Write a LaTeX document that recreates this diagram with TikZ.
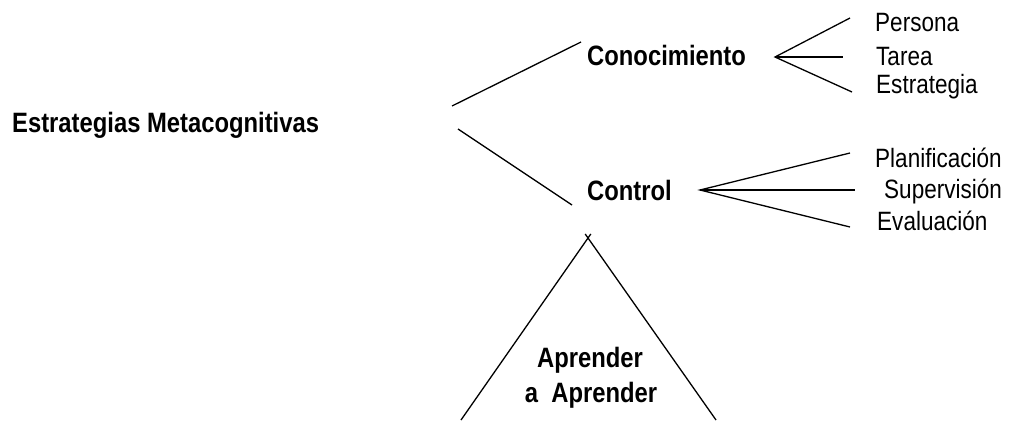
\documentclass[tikz,border=0pt]{standalone}
\usepackage{fontspec}
\setmainfont{Liberation Sans}[FakeStretch=0.85]
\begin{document}
\begin{tikzpicture}[x=1pt,y=-1pt,
  lbl/.style={inner sep=0pt,anchor=base west,font=\fontsize{26.5}{30}\selectfont},
  head/.style={inner sep=0pt,anchor=base west,font=\fontsize{28}{32}\selectfont\bfseries},
  ln/.style={line width=1.3pt,black}]
\useasboundingbox[fill=white] (0,0) rectangle (1011,420);

% main terms
\node[head] (em)  at (12,132)  {Estrategias Metacognitivas};
\node[head] (con) at (587,65)  {Conocimiento};
\node[head] (ctl) at (587,200) {Control};

% knowledge components
\node[lbl] (per) at (875,32) {Persona};
\node[lbl] (tar) at (876,65) {Tarea};
\node[lbl] (est) at (876,93) {Estrategia};

% control components
\node[lbl] (pla) at (875,167) {Planificación};
\node[lbl] (sup) at (884,198) {Supervisión};
\node[lbl] (eva) at (877,230) {Evaluación};

% base of the triangle
\node[head,anchor=base] (apr1) at (590,367) {Aprender};
\node[head,anchor=base] (apr2) at (591,402) {a\ \ Aprender};

% branch end points
\coordinate (emU) at (452,106);  \coordinate (conL) at (581,42);
\coordinate (emD) at (458,129);  \coordinate (ctlL) at (572,205);
\coordinate (conF) at (775,57);
\coordinate (perE) at (850,18);  \coordinate (tarE) at (843,57);  \coordinate (estE) at (852,92);
\coordinate (ctlF) at (700,190);
\coordinate (plaE) at (850,153); \coordinate (supE) at (855,190); \coordinate (evaE) at (850,227);
\coordinate (triL) at (590.8,234); \coordinate (triLB) at (461,420);
\coordinate (triR) at (585.2,234); \coordinate (triRB) at (716,420);

% branches
\draw[ln] (emU) -- (conL);
\draw[ln] (emD) -- (ctlL);
\draw[ln] (perE) -- (conF) -- (estE);
\draw[ln] (conF) -- (tarE);
\draw[ln] (plaE) -- (ctlF) -- (evaE);
\draw[ln] (ctlF) -- (supE);

% triangle sides
\draw[ln] (triL) -- (triLB);
\draw[ln] (triR) -- (triRB);
\end{tikzpicture}
\end{document}
